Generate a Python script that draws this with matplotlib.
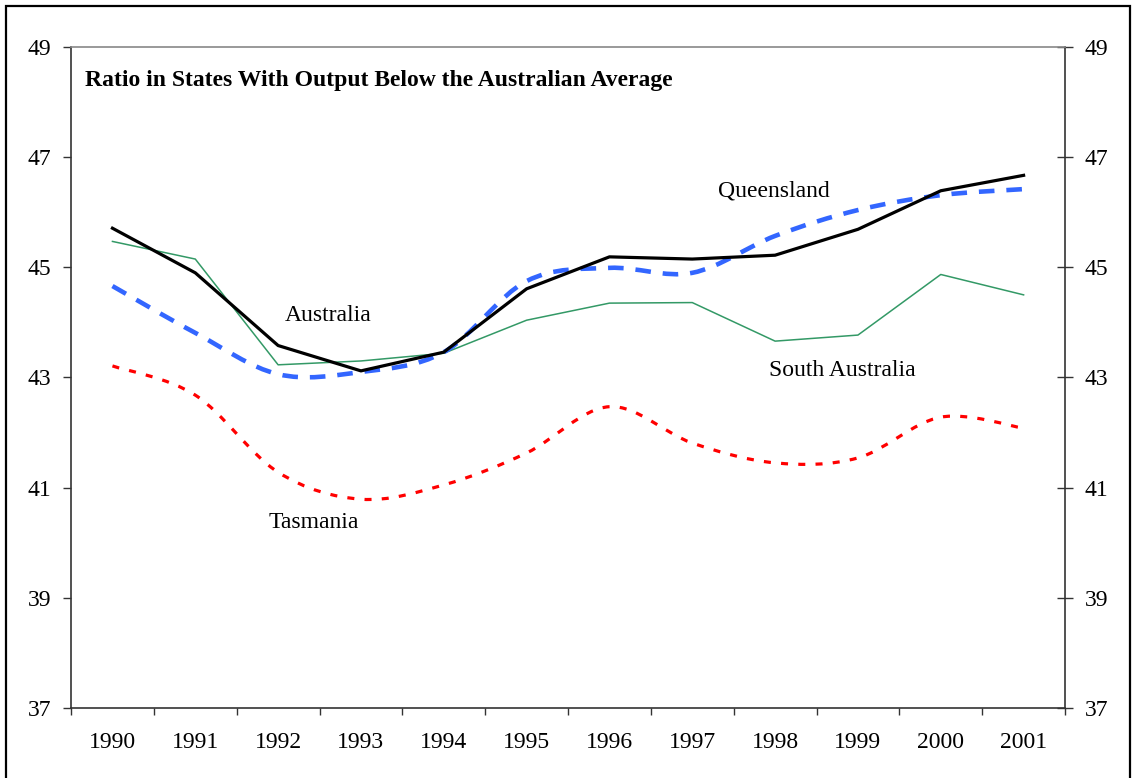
import numpy as np
import matplotlib
matplotlib.use("Agg")
import matplotlib.pyplot as plt
from matplotlib.path import Path
from matplotlib.patches import PathPatch, Rectangle

# data
years = ['1990', '1991', '1992', '1993', '1994', '1995',
         '1996', '1997', '1998', '1999', '2000', '2001']
australia = [45.71, 44.90, 43.58, 43.12, 43.46, 44.61,
             45.19, 45.15, 45.22, 45.69, 46.39, 46.67]
queensland = [44.66, 43.81, 43.06, 43.10, 43.46, 44.75,
              44.99, 44.90, 45.57, 46.04, 46.31, 46.42]
south_australia = [45.47, 45.15, 43.23, 43.30, 43.44, 44.04,
                   44.35, 44.36, 43.66, 43.77, 44.87, 44.50]
tasmania = [43.21, 42.68, 41.28, 40.79, 41.05, 41.63,
            42.47, 41.81, 41.45, 41.54, 42.28, 42.08]
y_ticks = [37, 39, 41, 43, 45, 47, 49]

plt.rcParams['font.family'] = ['Liberation Serif', 'DejaVu Serif']

fig = plt.figure(figsize=(11.33, 7.78), dpi=100)
ax = fig.add_axes([0.0627, 0.0900, 0.8773, 0.8496])

x = np.arange(len(years))


def smooth_path(xs, ys):
    # Bezier curve through the points (like Excel's "smoothed line")
    pts = np.column_stack([xs, ys])
    n = len(pts)
    verts = [pts[0]]
    codes = [Path.MOVETO]
    for i in range(n - 1):
        p0 = pts[i - 1] if i > 0 else pts[i]
        p1 = pts[i]
        p2 = pts[i + 1]
        p3 = pts[i + 2] if i + 2 < n else pts[i + 1]
        c1 = p1 + (p2 - p0) / 6.0
        c2 = p2 - (p3 - p1) / 6.0
        verts += [c1, c2, p2]
        codes += [Path.CURVE4] * 3
    return Path(verts, codes)


# straight lines
ax.plot(x, south_australia, color='#339966', lw=1.1, zorder=3)
ax.plot(x, australia, color='black', lw=2.3, zorder=5)

# smoothed dashed lines
ax.add_patch(PathPatch(smooth_path(x, queensland), fill=False, edgecolor='#3366FF',
                       lw=3.3, linestyle=(0, (3.4, 2.6)), capstyle='butt', zorder=4))
ax.add_patch(PathPatch(smooth_path(x, tasmania), fill=False, edgecolor='#FF0000',
                       lw=2.3, linestyle=(0, (2.2, 3.2)), capstyle='butt', zorder=4))

ax.set_xlim(-0.5, len(years) - 0.5)
ax.set_ylim(37, 49)
ax.set_yticks(y_ticks)
ax.set_yticklabels([str(v) for v in y_ticks])

# category labels centred, tick marks on the boundaries
ax.set_xticks(x)
ax.set_xticklabels(years)
ax.set_xticks(np.arange(-0.5, len(years), 1.0), minor=True)
ax.tick_params(axis='x', which='major', length=0, pad=17, labelsize=17)
ax.tick_params(axis='x', which='minor', direction='out', length=5, width=1, color='#333333')
ax.tick_params(axis='y', which='major', left=True, right=True, labelleft=True, labelright=True,
               direction='out', length=6, width=1, pad=8, labelsize=17, color='#333333')
# right ticks cross the axis
for t in ax.yaxis.get_major_ticks():
    t.tick2line.set_marker('_')
    t.tick2line.set_markersize(12)

for side in ['left', 'bottom', 'right']:
    ax.spines[side].set_color('#333333')
    ax.spines[side].set_linewidth(1.2)
ax.spines['top'].set_color('#888888')
ax.spines['top'].set_linewidth(1.2)

ax.text(0.014, 0.949, 'Ratio in States With Output Below the Australian Average',
        transform=ax.transAxes, fontsize=17, fontweight='bold', va='center', ha='left')

ax.text(2.60, 44.12, 'Australia', fontsize=17, ha='center', va='center')
ax.text(7.99, 46.39, 'Queensland', fontsize=17, ha='center', va='center')
ax.text(8.81, 43.12, 'South Australia', fontsize=17, ha='center', va='center')
ax.text(2.43, 40.36, 'Tasmania', fontsize=17, ha='center', va='center')

# outer border of the figure
W, H = 1133, 778
fig.patches.append(Rectangle((6 / W, -0.02), (1130 - 6) / W, 1 - 6 / H + 0.02,
                             transform=fig.transFigure, fill=False,
                             edgecolor='black', lw=1.6, clip_on=False))

fig.savefig('out.png', dpi=100)
